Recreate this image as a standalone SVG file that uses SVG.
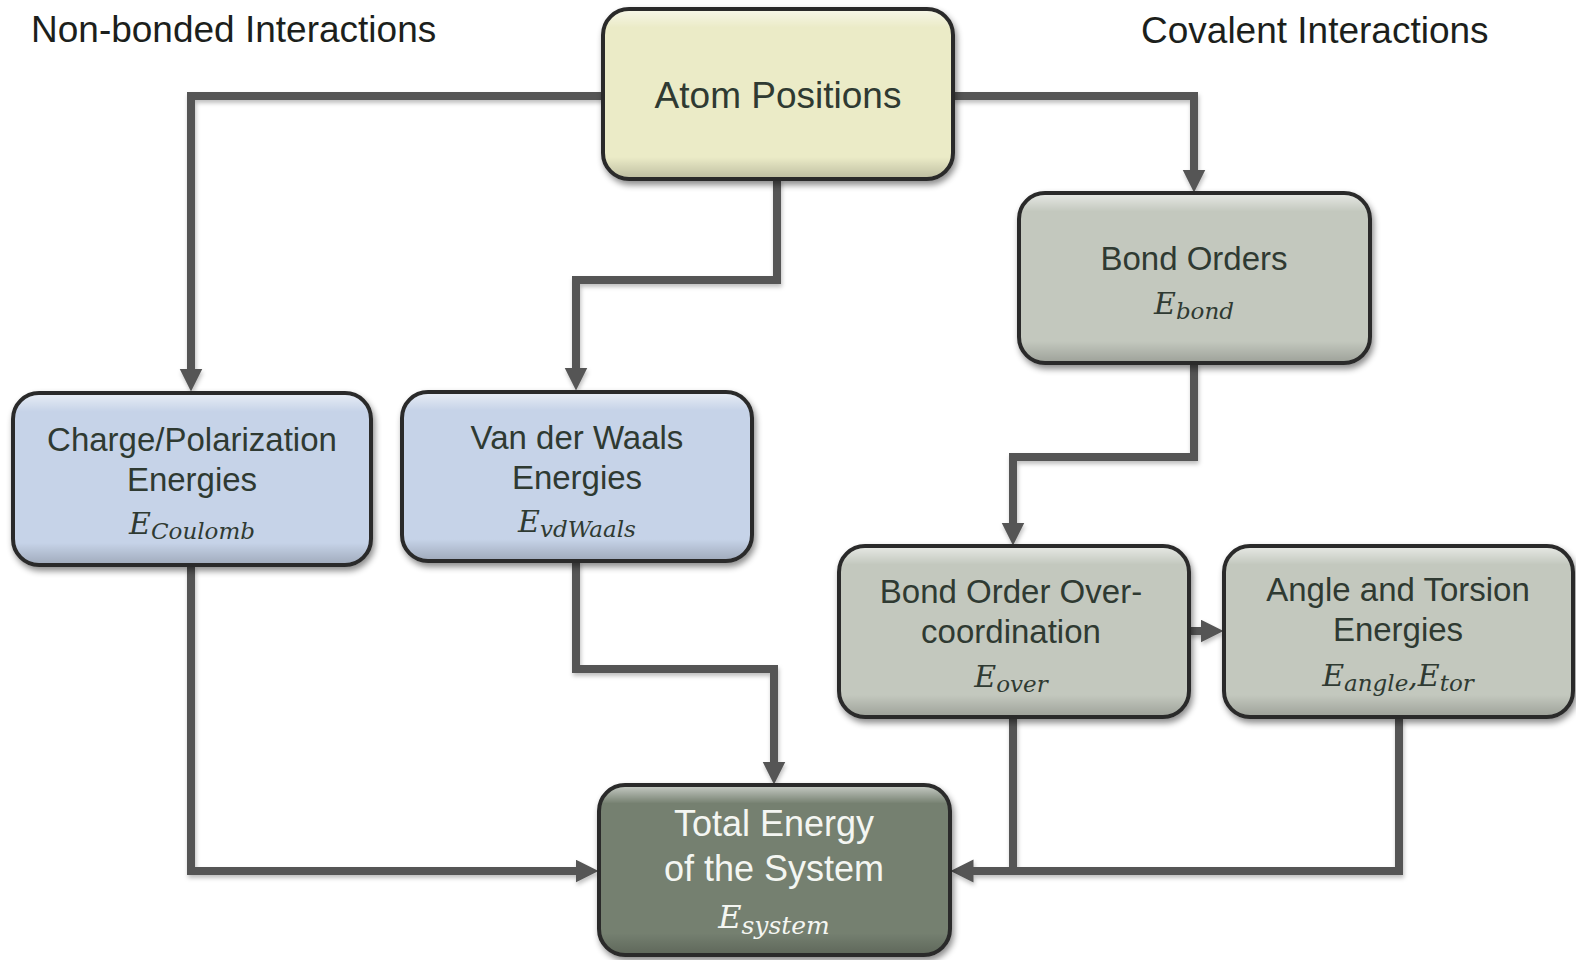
<svg xmlns="http://www.w3.org/2000/svg" width="1576" height="960" viewBox="0 0 1576 960">
<style>
.t{font-family:"Liberation Sans",Arial,sans-serif;font-size:33px;fill:#2f3a32;text-anchor:middle}
.h{font-family:"Liberation Sans",Arial,sans-serif;font-size:37px;fill:#1c1f1c}
.m{font-family:"DejaVu Serif","Liberation Serif",serif;font-style:italic;fill:#2f3a32;text-anchor:middle}
.E{font-size:30px}
.s{font-size:23px}
.w{fill:#f4f6f2}
.box{stroke:#2a2a2a;stroke-width:4}
.bev{fill:url(#bevel);stroke:none}
.conn{fill:none;stroke:#555555;stroke-width:8;stroke-linejoin:miter}
</style>
<defs>
<linearGradient id="bevel" x1="0" y1="0" x2="0" y2="1">
<stop offset="0" stop-color="#ffffff" stop-opacity="0.55"/>
<stop offset="0.1" stop-color="#ffffff" stop-opacity="0"/>
<stop offset="0.88" stop-color="#000000" stop-opacity="0"/>
<stop offset="1" stop-color="#000000" stop-opacity="0.18"/>
</linearGradient>
<filter id="sh" x="-10%" y="-10%" width="120%" height="130%">
<feDropShadow dx="2" dy="4" stdDeviation="3" flood-color="#000" flood-opacity="0.45"/>
</filter>
<filter id="lsh" x="-10%" y="-10%" width="120%" height="120%">
<feDropShadow dx="1" dy="3" stdDeviation="2" flood-color="#000" flood-opacity="0.25"/>
</filter>
<marker id="arr" markerUnits="userSpaceOnUse" markerWidth="24" markerHeight="24" viewBox="0 0 24 24" refX="0.5" refY="11.5" orient="auto">
<path d="M0,0 L23,11.5 L0,23 Z" fill="#555555"/>
</marker>
</defs>
<rect width="1576" height="960" fill="#ffffff"/>

<text class="h" x="31" y="42">Non-bonded Interactions</text>
<text class="h" x="1141" y="43">Covalent Interactions</text>

<g id="connectors" filter="url(#lsh)">
<path class="conn" d="M603,96 H191 V369" marker-end="url(#arr)"/>
<path class="conn" d="M777,179 V280 H576 V368" marker-end="url(#arr)"/>
<path class="conn" d="M953,96 H1194 V170" marker-end="url(#arr)"/>
<path class="conn" d="M1194,363 V457 H1013 V523" marker-end="url(#arr)"/>
<path class="conn" d="M1189,631 H1201" marker-end="url(#arr)"/>
<path class="conn" d="M191,566 V871 H576" marker-end="url(#arr)"/>
<path class="conn" d="M576,561 V669 H774 V762" marker-end="url(#arr)"/>
<path class="conn" d="M1399,717 V871 H1013"/>
<path class="conn" d="M1013,717 V871 H973" marker-end="url(#arr)"/>
</g>

<g id="atom-positions">
<rect class="box" x="603" y="9" width="350" height="170" rx="26" fill="#ebebc7" filter="url(#sh)"/>
<rect class="bev" x="605" y="11" width="346" height="166" rx="24"/>
<text class="t" x="778" y="108" style="font-size:37px">Atom Positions</text>
</g>

<g id="bond-orders">
<rect class="box" x="1019" y="193" width="351" height="170" rx="26" fill="#c3c8be" filter="url(#sh)"/>
<rect class="bev" x="1021" y="195" width="347" height="166" rx="24"/>
<text class="t" x="1194" y="270">Bond Orders</text>
<text class="m" x="1194" y="314"><tspan class="E">E</tspan><tspan class="s" dy="5">bond</tspan></text>
</g>

<g id="charge">
<rect class="box" x="13" y="393" width="358" height="172" rx="26" fill="#c6d3e8" filter="url(#sh)"/>
<rect class="bev" x="15" y="395" width="354" height="168" rx="24"/>
<text class="t" x="192" y="451">Charge/Polarization</text>
<text class="t" x="192" y="491">Energies</text>
<text class="m" x="192" y="534"><tspan class="E">E</tspan><tspan class="s" dy="5">Coulomb</tspan></text>
</g>

<g id="vdwaals">
<rect class="box" x="402" y="392" width="350" height="169" rx="26" fill="#c6d3e8" filter="url(#sh)"/>
<rect class="bev" x="404" y="394" width="346" height="165" rx="24"/>
<text class="t" x="577" y="449">Van der Waals</text>
<text class="t" x="577" y="489">Energies</text>
<text class="m" x="577" y="532"><tspan class="E">E</tspan><tspan class="s" dy="5">vdWaals</tspan></text>
</g>

<g id="overcoordination">
<rect class="box" x="839" y="546" width="350" height="171" rx="26" fill="#c3c8be" filter="url(#sh)"/>
<rect class="bev" x="841" y="548" width="346" height="167" rx="24"/>
<text class="t" x="1011" y="603">Bond Order Over-</text>
<text class="t" x="1011" y="643">coordination</text>
<text class="m" x="1011" y="687"><tspan class="E">E</tspan><tspan class="s" dy="5">over</tspan></text>
</g>

<g id="angle-torsion">
<rect class="box" x="1224" y="546" width="349" height="171" rx="26" fill="#c3c8be" filter="url(#sh)"/>
<rect class="bev" x="1226" y="548" width="345" height="167" rx="24"/>
<text class="t" x="1398" y="601">Angle and Torsion</text>
<text class="t" x="1398" y="641">Energies</text>
<text class="m" x="1398" y="686"><tspan class="E">E</tspan><tspan class="s" dy="5">angle</tspan><tspan class="E" dy="-5">,E</tspan><tspan class="s" dy="5">tor</tspan></text>
</g>

<g id="total-energy">
<rect class="box" x="599" y="785" width="351" height="170" rx="26" fill="#748070" filter="url(#sh)"/>
<rect class="bev" x="601" y="787" width="347" height="166" rx="24"/>
<text class="t w" x="774" y="836" style="font-size:36px">Total Energy</text>
<text class="t w" x="774" y="881" style="font-size:36px">of the System</text>
<text class="m w" x="774" y="928"><tspan class="E" style="font-size:32px">E</tspan><tspan class="s" dy="6" style="font-size:25px">system</tspan></text>
</g>
</svg>
